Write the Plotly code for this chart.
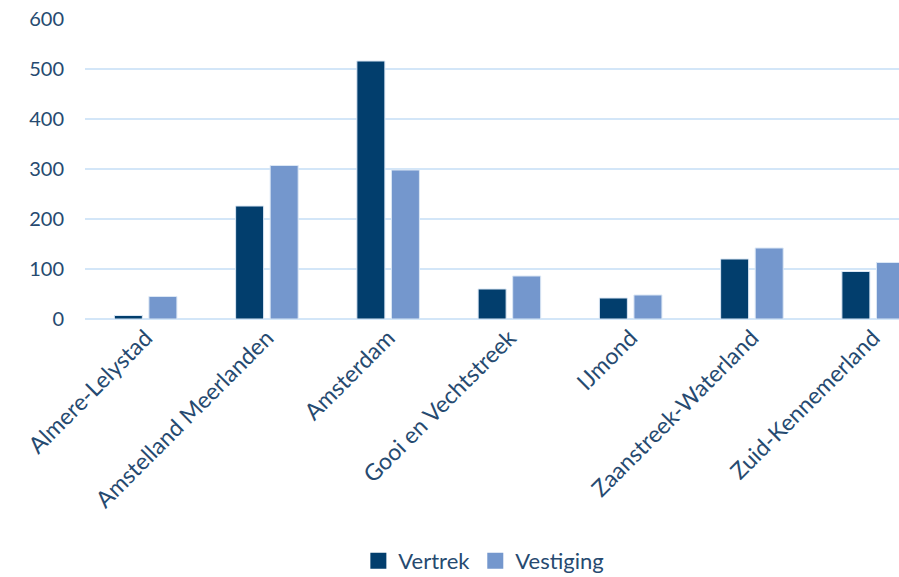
import plotly.graph_objects as go

regions = ["Almere-Lelystad", "Amstelland Meerlanden", "Amsterdam",
           "Gooi en Vechtstreek", "IJmond", "Zaanstreek-Waterland",
           "Zuid-Kennemerland"]
vertrek = [7, 226, 516, 60, 42, 120, 95]
vestiging = [45, 307, 298, 86, 48, 142, 113]
y_ticks = [0, 100, 200, 300, 400, 500, 600]

TEXT = "#264a70"
FONT = "Lato"
DARK = "#023e6d"
LIGHT = "#7497cd"

fig = go.Figure()
fig.add_trace(go.Bar(name="Vertrek", x=regions, y=vertrek, showlegend=False,
                     marker=dict(color=DARK, line=dict(color="#dbe7f5", width=1))))
fig.add_trace(go.Bar(name="Vestiging", x=regions, y=vestiging, showlegend=False,
                     marker=dict(color=LIGHT, line=dict(color="#dbe7f5", width=1))))

# legend entries with larger square swatches
for name, col in [("Vertrek", DARK), ("Vestiging", LIGHT)]:
    fig.add_trace(go.Scatter(name=name, x=[None], y=[None], mode="markers",
                             marker=dict(symbol="square", size=16, color=col)))

fig.update_layout(
    width=899, height=577,
    margin=dict(l=85, r=0, t=19, b=258),
    paper_bgcolor="white", plot_bgcolor="white",
    barmode="group", bargap=0.43, bargroupgap=0.19,
    font=dict(family=FONT, color=TEXT, size=20),
    xaxis=dict(type="category", range=[-0.5, 6.213], tickangle=-45,
               showgrid=False, showline=False, ticks="",
               tickfont=dict(size=23, color=TEXT)),
    yaxis=dict(range=[0, 600], tickvals=y_ticks, showgrid=True,
               gridcolor="#d3e6f8", gridwidth=1.5, zeroline=True,
               zerolinecolor="#d3e6f8", zerolinewidth=1.5,
               ticklabelstandoff=20, tickfont=dict(size=20, color=TEXT)),
    legend=dict(orientation="h", xref="paper", yref="container",
                x=0.49, xanchor="center", y=0.028, yanchor="middle",
                itemwidth=30, font=dict(size=22, color=TEXT)),
    showlegend=True,
)

fig.write_html("out.html")
